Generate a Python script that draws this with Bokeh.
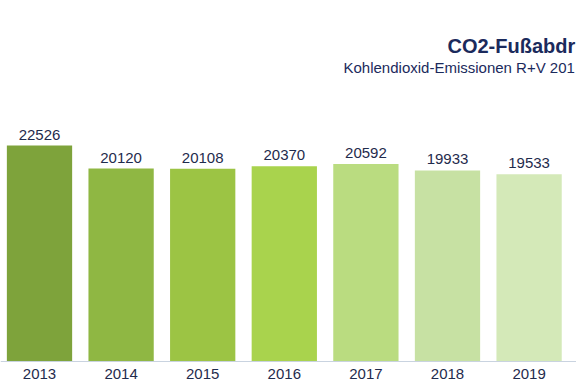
from bokeh.plotting import figure
from bokeh.models import ColumnDataSource, Range1d, Span, Label
from bokeh.embed import file_html
from bokeh.resources import INLINE
from bokeh.core.properties import value

years = ["2013", "2014", "2015", "2016", "2017", "2018", "2019"]
emissions = [22526, 20120, 20108, 20370, 20592, 19933, 19533]
colors = ["#7ea33b", "#8fb743", "#9cc444", "#a9d34d", "#badc80", "#c7e1a3", "#d4e9b8"]
title_text = "CO2-Fußabdr"
subtitle_text = "Kohlendioxid-Emissionen R+V 201"

xs = list(range(len(years)))
src = ColumnDataSource(dict(x=xs, top=emissions, color=colors,
                            label=[str(v) for v in emissions], year=years,
                            zero=[0] * len(xs)))

FONT = value("Liberation Sans")
NAVY = "#1f2b4d"
W, H = 576, 384

p = figure(width=W, height=H, output_backend="svg", toolbar_location=None,
           x_range=Range1d(-0.478, 6.581), y_range=Range1d(-2399, 37652),
           min_border=0, min_border_left=0, min_border_right=0,
           min_border_top=0, min_border_bottom=0)
p.axis.visible = False
p.grid.visible = False
p.outline_line_color = None
p.background_fill_color = "white"
p.border_fill_color = "white"

p.vbar(x="x", top="top", bottom=0, width=0.8, fill_color="color", line_color=None, source=src)

p.add_layout(Span(location=0, dimension="width", line_color="#c9d3e0", line_width=1))

p.text(x="x", y="top", text="label", source=src, text_align="center",
       text_baseline="bottom", y_offset=-6, text_font=FONT,
       text_font_size="15px", text_color=NAVY)

p.text(x="x", y="zero", text="year", source=src, text_align="center",
       text_baseline="middle", y_offset=13, text_font=FONT,
       text_font_size="15px", text_color=NAVY)

p.add_layout(Label(x=447, y=H - 45, x_units="screen", y_units="screen",
                   text=title_text, text_align="left", text_baseline="alphabetic",
                   text_font="Liberation Sans", text_font_style="bold",
                   text_font_size="20px", text_color="#1b2a5c"))
p.add_layout(Label(x=343, y=H - 67, x_units="screen", y_units="screen",
                   text=subtitle_text, text_align="left", text_baseline="alphabetic",
                   text_font="Liberation Sans", text_font_size="15px",
                   text_color="#1b2a5c"))

open("out.html", "w").write(file_html(p, INLINE))
